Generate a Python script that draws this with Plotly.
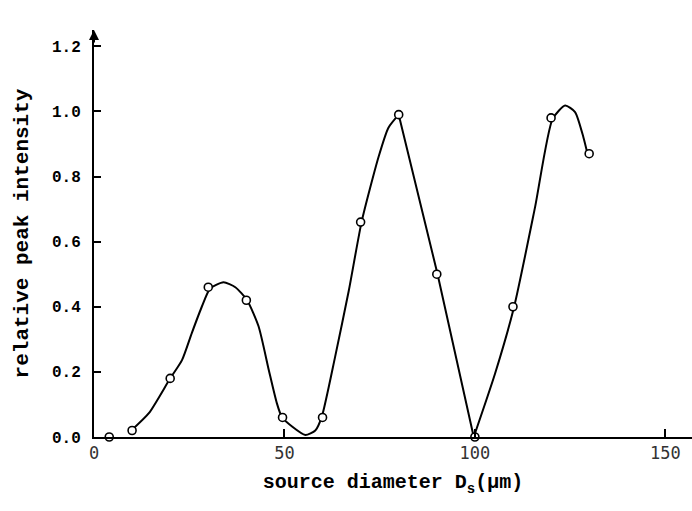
import plotly.graph_objects as go

# measured points (source diameter in um, relative peak intensity)
diam = [4, 10, 20, 30, 40, 49.5, 60, 70, 80, 90, 100, 110, 120, 130]
intensity = [0.0, 0.02, 0.18, 0.46, 0.42, 0.06, 0.06, 0.66, 0.99, 0.50, 0.0, 0.40, 0.98, 0.87]

# hand-drawn guide curve (three pieces: smooth, straight, smooth)
curve1_x = [9.8, 14.4, 19.9, 23.1, 25.7, 28.3, 30.5, 34.0, 37.1, 40.2, 43.2, 45.9, 48.0,
            49.3, 52.0, 55.5, 58.1, 59.8, 63.3, 66.9, 70.3, 74.7, 77.3, 80.0]
curve1_y = [0.02, 0.073, 0.178, 0.236, 0.32, 0.40, 0.456, 0.475, 0.46, 0.42, 0.34, 0.205, 0.104,
            0.062, 0.032, 0.006, 0.02, 0.062, 0.246, 0.45, 0.663, 0.86, 0.95, 0.99]
curve2_x = [80.0, 90.2, 99.7]
curve2_y = [0.99, 0.50, 0.0]
curve3_x = [99.7, 105.3, 110.3, 115.8, 120.4, 123.7, 126.3, 128.5, 129.6]
curve3_y = [0.0, 0.195, 0.40, 0.706, 0.977, 1.018, 0.998, 0.92, 0.868]

x_ticks = [0, 50, 100, 150]
y_ticks = [0.0, 0.2, 0.4, 0.6, 0.8, 1.0, 1.2]
y_tick_text = ["0.0", "0.2", "0.4", "0.6", "0.8", "1.0", "1.2"]

fig = go.Figure()
for cx, cy, shp in [(curve1_x, curve1_y, "spline"), (curve2_x, curve2_y, "linear"),
                    (curve3_x, curve3_y, "spline")]:
    fig.add_trace(go.Scatter(x=cx, y=cy, mode="lines",
                             line=dict(color="black", width=2, shape=shp, smoothing=0.6),
                             hoverinfo="skip", showlegend=False))
fig.add_trace(go.Scatter(x=diam, y=intensity, mode="markers",
                         marker=dict(symbol="circle", size=8, color="white",
                                     line=dict(color="black", width=1.6)),
                         showlegend=False, cliponaxis=False))

mono = "Liberation Mono"
fig.update_layout(
    width=692, height=511,
    margin=dict(l=94, r=0, t=30, b=74),
    paper_bgcolor="white", plot_bgcolor="white",
    xaxis=dict(range=[0, 157], tickvals=x_ticks, ticks="inside", ticklen=8,
               tickcolor="black", tickwidth=1.5, showgrid=False, zeroline=False,
               showline=True, linecolor="black", linewidth=2,
               tickfont=dict(family="DejaVu Sans Mono", size=17, color="#333"),
               title=dict(text="source diameter D<sub>s</sub>(µm)",
                          font=dict(family=mono, size=20, color="black", weight="bold"),
                          standoff=12)),
    yaxis=dict(range=[0, 1.25], tickvals=y_ticks, ticktext=y_tick_text, ticks="inside",
               ticklen=7, tickcolor="black", tickwidth=1.5, showgrid=False, zeroline=False,
               showline=True, linecolor="black", linewidth=2, ticklabelstandoff=8,
               tickfont=dict(family=mono, size=16, color="black", weight="bold"),
               title=dict(text="relative peak intensity",
                          font=dict(family=mono, size=21, color="black", weight="bold"),
                          standoff=18)),
    font=dict(family=mono, color="black"),
    annotations=[dict(xref="paper", yref="paper", x=0, y=1.0, ax=0, ay=14, text="",
                      showarrow=True, arrowhead=2, arrowsize=1, arrowwidth=2,
                      arrowcolor="black")],
)

fig.write_html("out.html", config={"displayModeBar": False},
               post_script="document.body.style.margin='0';")
